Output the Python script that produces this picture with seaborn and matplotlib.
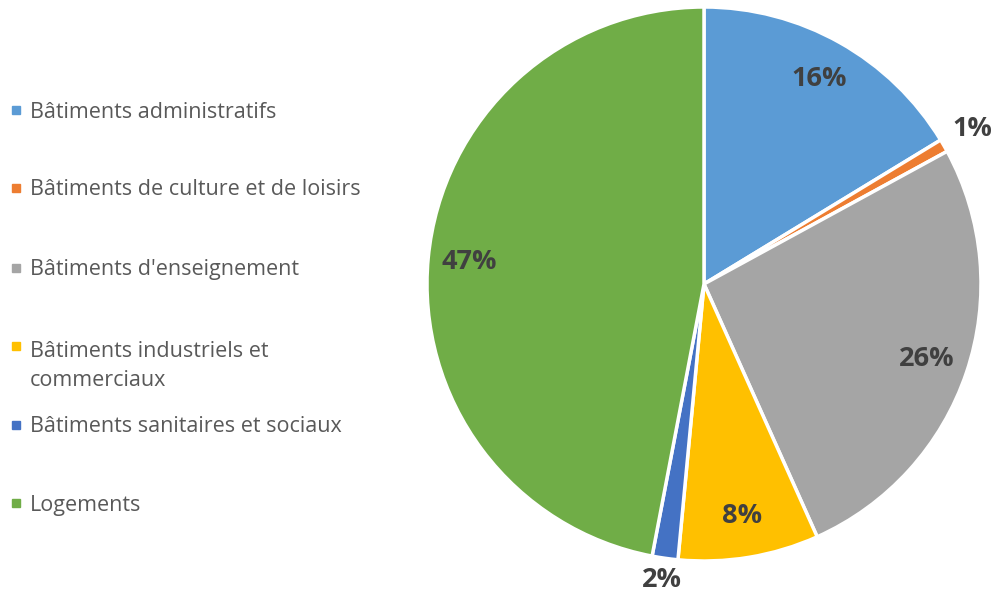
import numpy as np
import matplotlib
matplotlib.use("Agg")
import matplotlib.pyplot as plt
import seaborn as sns

# share of each building category
categories = [
    "Bâtiments administratifs",
    "Bâtiments de culture et de loisirs",
    "Bâtiments d'enseignement",
    "Bâtiments industriels et\ncommerciaux",
    "Bâtiments sanitaires et sociaux",
    "Logements",
]
shares = [16.3, 0.75, 26.25, 8.2, 1.5, 47.0]
pct_labels = ["16%", "1%", "26%", "8%", "2%", "47%"]
colors = ["#5B9BD5", "#ED7D31", "#A5A5A5", "#FFC000", "#4472C4", "#70AD47"]

sns.set_theme(style="white")
plt.rcParams["font.family"] = ["Open Sans", "DejaVu Sans"]

fig = plt.figure(figsize=(9.93, 5.95), dpi=100)
ax = fig.add_axes([427 / 993, 1 - 561 / 595, 554 / 993, 554 / 595])

wedges, _ = ax.pie(
    shares, colors=colors, startangle=90, counterclock=False,
    wedgeprops=dict(edgecolor="white", linewidth=2.5),
)
ax.set_xlim(-1, 1)
ax.set_ylim(-1, 1)
ax.set_aspect("equal")
ax.axis("off")

# percentage labels: inside for big slices, outside for the tiny ones
for w, lab in zip(wedges, pct_labels):
    mid = np.deg2rad((w.theta1 + w.theta2) / 2)
    if lab == "1%":
        r = 1.12
    elif lab == "2%":
        r = 1.08
    else:
        r = 0.85
    ax.text(r * np.cos(mid), r * np.sin(mid), lab, ha="center", va="center",
            fontsize=19.5, fontweight="bold", color="#404040")

# legend on the left, hand-placed like the original
legend_y = [110, 188, 268, 346, 425, 503]
for y, lab, c in zip(legend_y, categories, colors):
    fig.patches.append(plt.Rectangle((12 / 993, 1 - (y + 4) / 595), 8 / 993, 8 / 595,
                                     transform=fig.transFigure, color=c))
    extra = 32 * lab.count("\n")  # baseline sits on the last line
    fig.text(30 / 993, 1 - (y + 7.5 + extra) / 595, lab, ha="left", va="baseline",
             fontsize=15.5, color="#595959", linespacing=1.48)

fig.savefig("out.png", dpi=100)
